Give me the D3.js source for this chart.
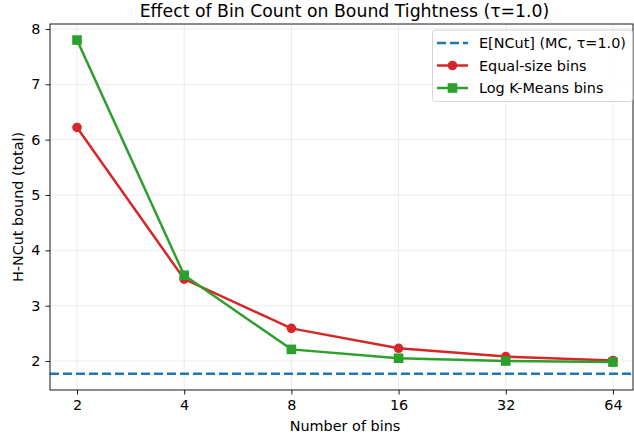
<!DOCTYPE html>
<html><head><meta charset="utf-8">
<script src="https://cdn.jsdelivr.net/npm/d3@7"></script>
<style>body{margin:0;background:#fff;} svg{display:block;font-family:"DejaVu Sans",sans-serif;}</style>
</head><body>
<svg id="c" width="634" height="438"></svg>
<script>
const bins = [2, 4, 8, 16, 32, 64];
const equalSize = [6.22, 3.48, 2.59, 2.23, 2.08, 2.01];
const logKMeans = [7.80, 3.55, 2.21, 2.05, 2.00, 1.98];
const mcNCut = 1.77;
const yTicks = [2, 3, 4, 5, 6, 7, 8];
const xTickLabels = ["2", "4", "8", "16", "32", "64"];

const svg = d3.select("#c");
const L = 50, R = 633, T = 24, B = 390;
const FS = 14.4;
const x = d3.scaleLog().base(2).domain([Math.pow(2, 0.748), Math.pow(2, 6.187)]).range([L, R]);
const y = d3.scaleLinear().domain([1.476, 8.09]).range([B, T]);

// grid
const g = svg.append("g");
g.selectAll(".gx").data(bins).enter().append("line")
  .attr("x1", d => x(d)).attr("x2", d => x(d)).attr("y1", T).attr("y2", B)
  .attr("stroke", "#b0b0b0").attr("stroke-opacity", 0.3).attr("stroke-width", 0.8);
g.selectAll(".gy").data(yTicks).enter().append("line")
  .attr("x1", L).attr("x2", R).attr("y1", d => y(d)).attr("y2", d => y(d))
  .attr("stroke", "#b0b0b0").attr("stroke-opacity", 0.3).attr("stroke-width", 0.8);

// axes
const xAxis = d3.axisBottom(x).tickValues(bins).tickFormat((d, i) => xTickLabels[i]).tickSize(4.5).tickPadding(5);
const yAxis = d3.axisLeft(y).tickValues(yTicks).tickFormat(d3.format("d")).tickSize(4.5).tickPadding(5);
const ax = svg.append("g").attr("transform", `translate(0,${B})`).call(xAxis);
const ay = svg.append("g").attr("transform", `translate(${L},0)`).call(yAxis);
[ax, ay].forEach(a => {
  a.select(".domain").remove();
  a.selectAll("text").attr("font-size", FS).attr("fill", "#000").attr("font-family", "DejaVu Sans");
  a.selectAll("line").attr("stroke", "#000").attr("stroke-width", 0.9);
});

// mc line
svg.append("line").attr("x1", L).attr("x2", R).attr("y1", y(mcNCut)).attr("y2", y(mcNCut))
  .attr("stroke", "#1f77b4").attr("stroke-width", 2.5).attr("stroke-dasharray", "9,4");

const line = d3.line().x((d, i) => x(bins[i])).y(d => y(d));
svg.append("path").datum(equalSize).attr("d", line).attr("fill", "none").attr("stroke", "#d62728").attr("stroke-width", 2.5);
svg.selectAll(".pe").data(equalSize).enter().append("circle")
  .attr("cx", (d, i) => x(bins[i])).attr("cy", d => y(d)).attr("r", 4.8).attr("fill", "#d62728");
svg.append("path").datum(logKMeans).attr("d", line).attr("fill", "none").attr("stroke", "#2ca02c").attr("stroke-width", 2.5);
svg.selectAll(".pk").data(logKMeans).enter().append("rect")
  .attr("x", (d, i) => x(bins[i]) - 4.8).attr("y", d => y(d) - 4.8).attr("width", 9.6).attr("height", 9.6).attr("fill", "#2ca02c");

// frame
svg.append("rect").attr("x", L).attr("y", T).attr("width", R - L).attr("height", B - T)
  .attr("fill", "none").attr("stroke", "#000").attr("stroke-width", 0.9);

// title & labels
svg.append("text").attr("x", (L + R) / 2 + 3).attr("y", 17).attr("text-anchor", "middle")
  .attr("font-size", 17.3).text("Effect of Bin Count on Bound Tightness (τ=1.0)");
svg.append("text").attr("x", 345).attr("y", 431).attr("text-anchor", "middle")
  .attr("font-size", FS).text("Number of bins");
svg.append("text").attr("transform", `translate(23,${(T + B) / 2}) rotate(-90)`).attr("text-anchor", "middle")
  .attr("font-size", FS).text("H-NCut bound (total)");

// legend
const lg = svg.append("g");
lg.append("rect").attr("x", 432.5).attr("y", 30).attr("width", 200).attr("height", 71.5).attr("rx", 3)
  .attr("fill", "#fff").attr("fill-opacity", 0.8).attr("stroke", "#d0d0d0").attr("stroke-width", 0.9);
const items = [
  {label: "E[NCut] (MC, τ=1.0)", color: "#1f77b4", type: "dash"},
  {label: "Equal-size bins", color: "#d62728", type: "circle"},
  {label: "Log K-Means bins", color: "#2ca02c", type: "square"}
];
items.forEach((it, i) => {
  const yy = 43 + i * 22.5;
  const l = lg.append("line").attr("x1", 437).attr("x2", 468).attr("y1", yy).attr("y2", yy)
    .attr("stroke", it.color).attr("stroke-width", 2.5);
  if (it.type === "dash") l.attr("stroke-dasharray", "9,4");
  if (it.type === "circle") lg.append("circle").attr("cx", 452.5).attr("cy", yy).attr("r", 4.8).attr("fill", it.color);
  if (it.type === "square") lg.append("rect").attr("x", 447.7).attr("y", yy - 4.8).attr("width", 9.6).attr("height", 9.6).attr("fill", it.color);
  lg.append("text").attr("x", 479).attr("y", yy + 5.2).attr("font-size", FS).text(it.label);
});
</script>
</body></html>
